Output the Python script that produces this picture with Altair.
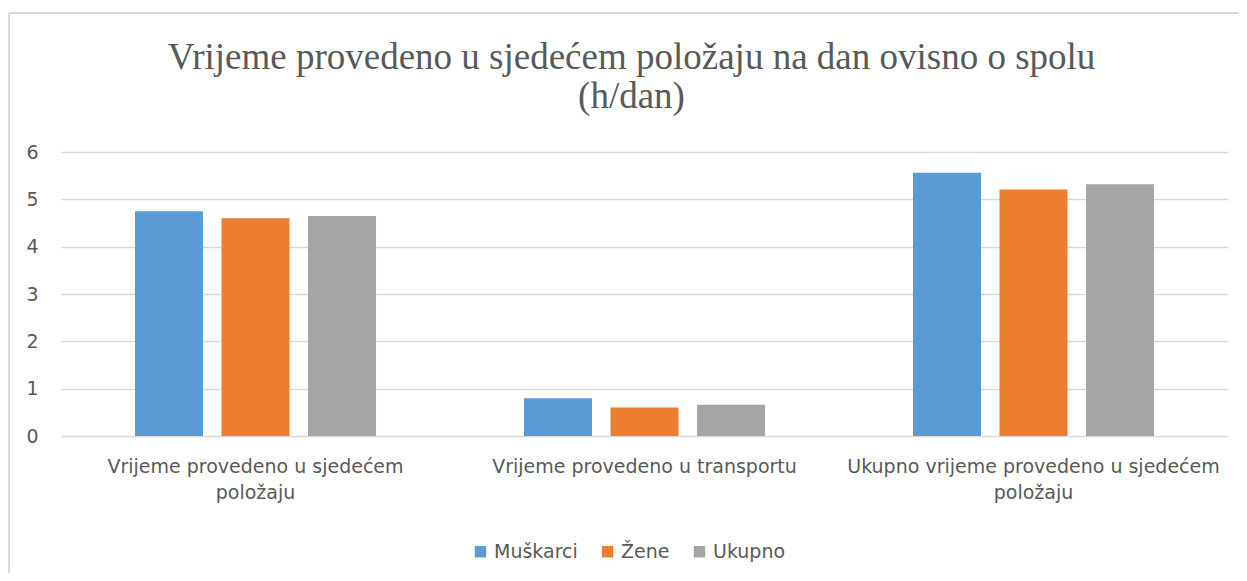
import altair as alt
import pandas as pd

categories = [
    "Vrijeme provedeno u sjedećem položaju",
    "Vrijeme provedeno u transportu",
    "Ukupno vrijeme provedeno u sjedećem položaju",
]
category_labels = [
    "Vrijeme provedeno u sjedećem|položaju",
    "Vrijeme provedeno u transportu",
    "Ukupno vrijeme provedeno u sjedećem|položaju",
]
series = ["Muškarci", "Žene", "Ukupno"]
muskarci = [4.75, 0.80, 5.56]
zene = [4.60, 0.60, 5.21]
ukupno = [4.65, 0.66, 5.32]
colors = ["#5B9BD5", "#ED7D31", "#A5A5A5"]

rows = []
for i, lab in enumerate(category_labels):
    for s, vals in zip(series, [muskarci, zene, ukupno]):
        rows.append({"kategorija": lab, "spol": s, "vrijednost": vals[i]})
df = pd.DataFrame(rows)

FONT = "DejaVu Sans"
TXT = "#595959"

bars = alt.Chart(df).mark_bar().encode(
    x=alt.X(
        "kategorija:N",
        sort=category_labels,
        scale=alt.Scale(paddingInner=0, paddingOuter=0),
        axis=alt.Axis(
            title=None,
            labelAngle=0,
            labelExpr="split(datum.label, '|')",
            labelFont=FONT,
            labelFontSize=19,
            labelColor=TXT,
            labelPadding=21,
            labelLineHeight=26,
            labelBaseline="top",
            labelLimit=0,
            ticks=False,
            domain=False,
            grid=False,
        ),
    ),
    xOffset=alt.XOffset(
        "spol:N",
        sort=series,
        scale=alt.Scale(paddingInner=0.214, paddingOuter=0.855),
    ),
    y=alt.Y(
        "vrijednost:Q",
        scale=alt.Scale(domain=[0, 6], nice=False),
        axis=alt.Axis(
            title=None,
            values=[0, 1, 2, 3, 4, 5, 6],
            labelFont=FONT,
            labelFontSize=19,
            labelColor=TXT,
            labelPadding=23,
            ticks=False,
            domain=False,
            grid=True,
            gridColor="#D9D9D9",
            gridWidth=1.5,
        ),
    ),
    color=alt.Color(
        "spol:N",
        sort=series,
        scale=alt.Scale(domain=series, range=colors),
        legend=alt.Legend(
            title=None,
            orient="none",
            direction="horizontal",
            legendX=410,
            legendY=390,
            symbolType="square",
            symbolSize=130,
            symbolStrokeWidth=0,
            labelFont=FONT,
            labelFontSize=19,
            labelColor=TXT,
            labelOffset=4,
            labelLimit=0,
            columnPadding=20,
        ),
    ),
)

frame = pd.DataFrame([{"k": 1}])
top_border = alt.Chart(frame).mark_rule(color="#D9D9D9", strokeWidth=2).encode(
    x=alt.value(-52), x2=alt.value(1190), y=alt.value(-139)
)
left_border = alt.Chart(frame).mark_rule(color="#D9D9D9", strokeWidth=2).encode(
    x=alt.value(-52), y=alt.value(-139), y2=alt.value(440)
)

chart = (
    alt.layer(bars, top_border, left_border)
    .properties(
        width=1167,
        height=284,
        background="white",
        title=alt.Title(
            text=["Vrijeme provedeno u sjedećem položaju na dan ovisno o spolu", "(h/dan)"],
            font="Liberation Serif",
            fontSize=37,
            fontWeight="normal",
            color=TXT,
            lineHeight=39,
            anchor="middle",
            frame="group",
            dx=-13,
            dy=104,
            offset=0,
        ),
        autosize=alt.AutoSizeParams(type="none"),
        padding={"left": 53, "top": 144, "right": 11, "bottom": 137},
    )
    .configure_view(strokeWidth=0)
)

chart.save("out.html", embed_options={"renderer": "svg", "actions": False})
